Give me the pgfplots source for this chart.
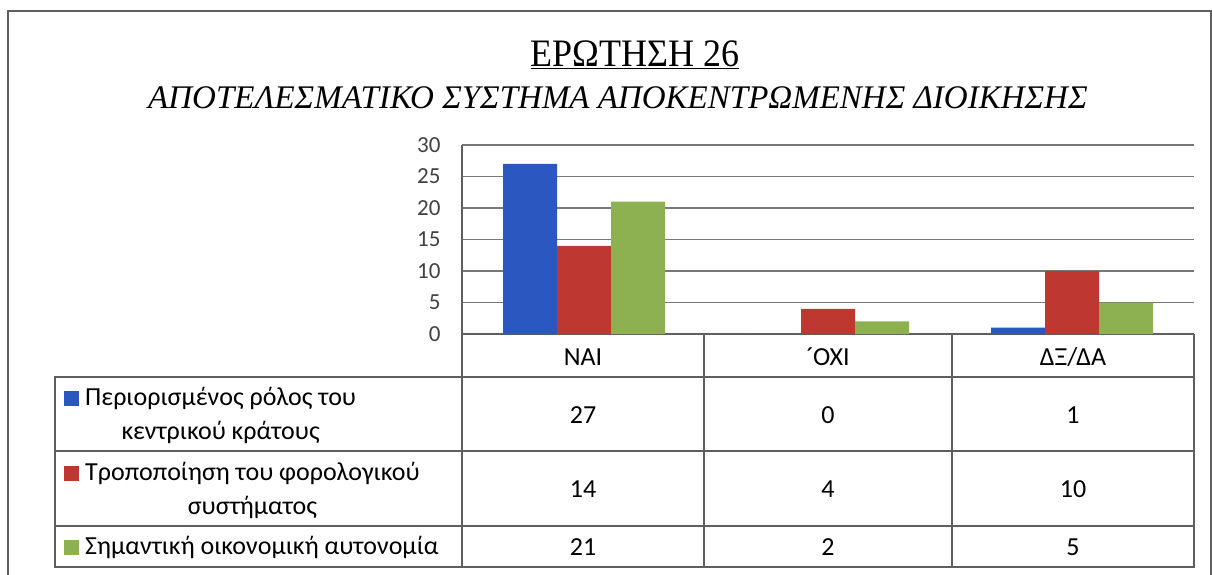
\documentclass[border=0pt]{standalone}
\usepackage{fontspec}
\setmainfont{Carlito}
\newfontfamily\titlefont{Liberation Serif}
\usepackage{pgfplots}
\pgfplotsset{compat=1.18}
\definecolor{sblue}{RGB}{42,88,192}
\definecolor{sred}{RGB}{190,55,48}
\definecolor{sgreen}{RGB}{141,176,80}
\definecolor{gridc}{RGB}{120,120,120}
\definecolor{framec}{RGB}{95,95,95}
\begin{document}
\begin{tikzpicture}
\path[use as bounding box] (0pt,0pt) rectangle (1212pt,-574pt);
\begin{axis}[
  at={(462pt,-334pt)}, anchor=south west,
  scale only axis, width=732pt, height=189pt,
  xmin=-0.5, xmax=2.5, ymin=0, ymax=30,
  ytick={0,5,...,30}, xtick=\empty,
  ymajorgrids, grid style={gridc, line width=1.3pt},
  axis lines*=left,
  axis line style={framec, line width=1.5pt},
  major tick length=0pt,
  ybar=0pt, bar width=54pt,
  /pgf/number format/assume math mode=true,
  yticklabel style={font=\fontsize{23}{23}\selectfont, text=black!75, xshift=-18pt},
  clip=false,
]
\addplot[fill=sblue, draw=none] coordinates {(0,27) (1,0) (2,1)};
\addplot[fill=sred, draw=none] coordinates {(0,14) (1,4) (2,10)};
\addplot[fill=sgreen, draw=none] coordinates {(0,21) (1,2) (2,5)};
\end{axis}
\begin{scope}[x=1pt, y=-1pt]
  % outer frame
  \draw[framec, line width=1.8pt] (8,11) rectangle (1211,600);
  % titles
  \node[font=\titlefont\fontsize{36}{36}\selectfont, anchor=base] at (635,66) {\scalebox{1}[1.08]{\underline{ΕΡΩΤΗΣΗ 26}}};
  \node[font=\titlefont\itshape\fontsize{33}{33}\selectfont, anchor=base] at (618,108) {ΑΠΟΤΕΛΕΣΜΑΤΙΚΟ ΣΥΣΤΗΜΑ ΑΠΟΚΕΝΤΡΩΜΕΝΗΣ ΔΙΟΙΚΗΣΗΣ};
  % table lines
  \begin{scope}[framec, line width=1.5pt]
    \draw (462,334) -- (462,567);
    \draw (704,334) -- (704,567);
    \draw (952,334) -- (952,567);
    \draw (1194,334) -- (1194,567);
    \draw (55,377) rectangle (1194,567);
    \draw (55,451) -- (1194,451);
    \draw (55,526) -- (1194,526);
  \end{scope}
  % header and values
  \begin{scope}[font=\fontsize{26}{26}\selectfont]
    \node at (583,357) {ΝΑΙ};
    \node at (828,357) {´\kern-1pt ΟΧΙ};
    \node at (1073,357) {ΔΞ/ΔΑ};
    \node at (583,415) {27};
    \node at (828,415) {0};
    \node at (1073,415) {1};
    \node at (583,489) {14};
    \node at (828,489) {4};
    \node at (1073,489) {10};
    \node at (583,547) {21};
    \node at (828,547) {2};
    \node at (1073,547) {5};
  \end{scope}
  % legend rows
  \fill[sblue] (64,391) rectangle (79,406);
  \fill[sred] (64,466) rectangle (79,481);
  \fill[sgreen] (64,540) rectangle (79,555);
  \begin{scope}[font=\fontsize{26}{34}\selectfont]
    \node[anchor=west, align=center, inner sep=0pt] at (85,415) {Περιορισμένος ρόλος του\\κεντρικού κράτους};
    \node[anchor=west, align=center, inner sep=0pt] at (85,490) {Τροποποίηση του φορολογικού\\συστήματος};
    \node[anchor=west, align=center, inner sep=0pt] at (85,547) {Σημαντική οικονομική αυτονομία};
  \end{scope}
\end{scope}
\end{tikzpicture}
\end{document}
